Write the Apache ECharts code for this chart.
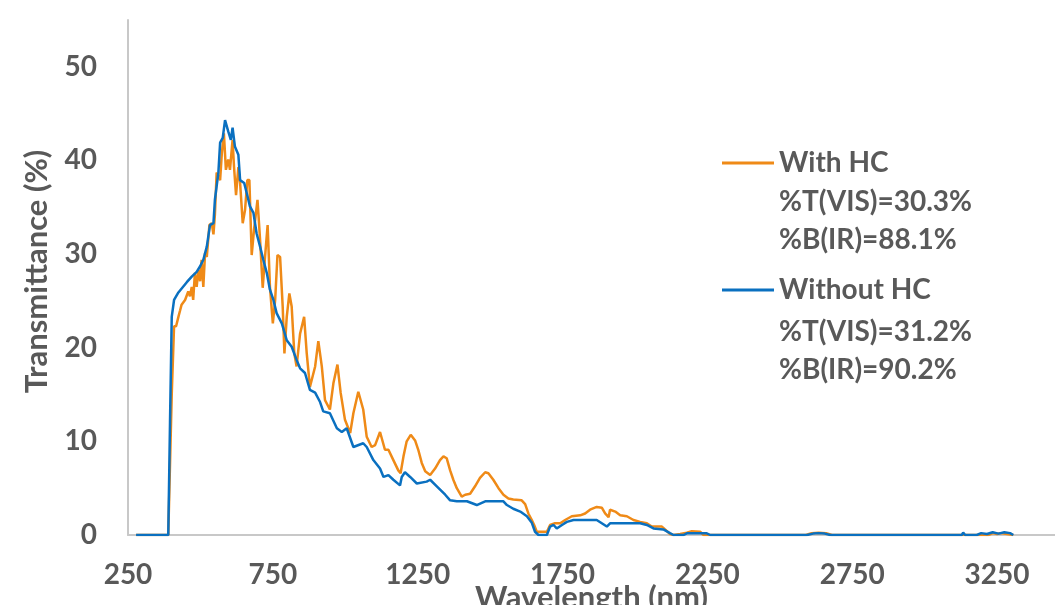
<!DOCTYPE html>
<html>
<head>
<meta charset="utf-8">
<script src="https://cdn.jsdelivr.net/npm/echarts@6/dist/echarts.min.js"></script>
<style>
html,body{margin:0;padding:0;background:#fff;}
#chart{width:1055px;height:605px;}
</style>
</head>
<body>
<div id="chart"></div>
<script>
// ---- Data ----
const withHcWavelength = [278,389,401,409,416,424,430,435,441,447,453,458,464,470,475,481,487,493,499,504,510,516,522,531,539,545,550,556,568,574,581,588,596,602,611,616,623,631,637,646,654,662,669,677,685,697,706,715,723,732,740,750,758,766,775,784,790,798,807,815,824,832,844,858,867,878,896,907,919,930,947,959,973,984,999,1017,1028,1045,1062,1074,1091,1103,1120,1137,1149,1166,1183,1191,1201,1212,1226,1241,1252,1264,1276,1293,1310,1327,1339,1350,1362,1373,1385,1402,1414,1431,1448,1465,1483,1494,1511,1529,1546,1563,1580,1609,1621,1632,1644,1652,1661,1696,1707,1724,1742,1759,1782,1811,1828,1845,1868,1886,1897,1909,1914,1932,1949,1972,1995,2018,2041,2058,2093,2104,2121,2133,2156,2179,2196,2225,2237,2590,2610,2634,2660,2680,3220,3235,3250,3262,3306];
const withHcValues = [0,0,15,22.3,22.3,23.3,24.0,24.6,24.4,25.1,24.9,26.0,25.5,26.5,25.1,28.0,26.5,28.3,27.1,29.4,26.5,30.1,29.7,33.1,33.3,32.1,34.2,38.7,37.9,40.8,42.9,39.0,40.1,39.0,42.2,39.3,36.3,39.3,37.6,33.3,34.7,37.9,37.9,29.9,32.6,35.8,31.5,26.4,29.7,33.1,26.5,22.6,25.1,29.9,29.7,24.4,19.4,23.3,25.8,24.4,19.4,18.0,21.5,23.3,19.4,15.8,18.0,20.7,18.0,14.4,13.4,16.2,18.2,15.2,12.3,10.9,13.0,15.3,13.4,10.5,9.4,9.6,11.0,9.1,9.1,8.0,6.9,6.6,8.4,10.0,10.7,10.1,9.1,7.7,6.8,6.4,7.1,8.0,8.4,8.2,6.9,5.9,5.0,4.1,4.3,4.4,5.2,6.1,6.7,6.6,5.9,5.0,4.3,3.9,3.8,3.7,3.3,2.3,1.6,1.07,0.35,0.35,1.07,1.25,1.25,1.6,2.0,2.1,2.3,2.7,3.0,2.9,2.3,1.9,2.7,2.5,2.1,2.0,1.6,1.4,1.25,0.9,0.9,0.6,0.1,0,0.1,0.25,0.4,0.35,0,0,0.2,0.25,0.2,0,0,0.2,0.1,0.2,0];

const withoutHcWavelength = [278,389,395,401,409,424,430,453,470,487,499,510,522,533,545,550,562,568,577,585,596,605,611,619,631,637,651,660,671,683,694,706,717,729,740,752,763,781,798,815,832,844,861,878,896,913,924,947,971,988,1005,1028,1062,1074,1097,1120,1132,1149,1166,1189,1195,1206,1224,1247,1281,1293,1316,1345,1362,1385,1420,1454,1483,1546,1558,1580,1604,1627,1644,1655,1667,1696,1707,1719,1730,1748,1765,1788,1868,1903,1914,2018,2041,2064,2098,2121,2133,2168,2179,2248,2260,2594,2615,2634,2655,2674,3128,3133,3140,3180,3195,3215,3235,3255,3275,3295,3306];
const withoutHcValues = [0,0,12,23.3,25.1,25.9,26.0,27.0,27.6,28.1,28.7,29.4,30.8,33.1,33.3,35.8,38.7,41.9,42.4,44.3,43.1,42.2,43.5,41.5,40.6,37.9,37.6,36.5,35.1,34.4,32.2,30.8,29.4,28.0,26.2,25.1,23.7,22.6,20.8,20.1,18.7,17.8,17.3,15.5,15.2,14.2,13.2,13.0,11.4,11.0,11.4,9.4,9.8,9.4,8.0,7.1,6.2,6.4,5.9,5.3,6.2,6.7,6.2,5.5,5.7,5.9,5.2,4.3,3.7,3.6,3.6,3.2,3.6,3.6,3.2,2.8,2.5,2.0,1.3,0.35,0,0,0.9,1.07,0.7,1.07,1.4,1.6,1.6,0.9,1.25,1.25,1.07,0.7,0.6,0.2,0,0,0.18,0.18,0,0,0.15,0.2,0.15,0,0,0.25,0,0,0.2,0.1,0.3,0.15,0.3,0.2,0];

const seriesNames = ['With HC', 'Without HC'];
const statsWithHc = ['%T(VIS)=30.3%', '%B(IR)=88.1%'];
const statsWithoutHc = ['%T(VIS)=31.2%', '%B(IR)=90.2%'];

const xMin = 250, xMax = 3450, xStep = 500;
const yMin = 0, yMax = 55, yStep = 10;

// ---- Chart ----
const pair = (xs, ys) => xs.map((x, i) => [x, ys[i]]);
const textColor = '#595959';
const font = 'Lato';
const chart = echarts.init(document.getElementById('chart'), null, {renderer: 'canvas'});
chart.setOption({
  animation: false,
  backgroundColor: '#ffffff',
  grid: {left: 128, right: 0, top: 20, bottom: 70, containLabel: false, outerBoundsMode: 'none'},
  xAxis: {
    type: 'value', min: xMin, max: xMax, interval: xStep,
    name: 'Wavelength (nm)', nameLocation: 'middle', nameGap: 47, nameMoveOverlap: false,
    nameTextStyle: {color: textColor, fontSize: 31, fontWeight: 'bold', fontFamily: font},
    axisLine: {show: true, lineStyle: {color: '#c8c8c8', width: 2}},
    axisTick: {show: false},
    splitLine: {show: false},
    axisLabel: {color: textColor, fontSize: 28, fontWeight: 'bold', fontFamily: font, margin: 26, showMaxLabel: false,
      formatter: v => String(v)}
  },
  yAxis: {
    type: 'value', min: yMin, max: yMax, interval: yStep,
    name: 'Transmittance (%)', nameLocation: 'middle', nameGap: 76, nameMoveOverlap: false,
    nameTextStyle: {color: textColor, fontSize: 31, fontWeight: 'bold', fontFamily: font, padding: [0, 0, 0, 12]},
    axisLine: {show: true, lineStyle: {color: '#c8c8c8', width: 2}},
    axisTick: {show: false},
    splitLine: {show: false},
    axisLabel: {color: textColor, fontSize: 28, fontWeight: 'bold', fontFamily: font, margin: 31, showMaxLabel: false,
      formatter: v => String(v)}
  },
  legend: {
    orient: 'vertical', left: 717, top: 141,
    icon: 'rect', itemWidth: 52, itemHeight: 3, itemGap: 93,
    data: seriesNames,
    textStyle: {color: textColor, fontSize: 28, fontWeight: 'bold', fontFamily: font, lineHeight: 34}
  },
  graphic: [
    {type: 'text', left: 779, top: 183, style: {text: statsWithHc.join('\n'), fill: textColor, font: 'bold 28px Lato', lineHeight: 38}},
    {type: 'text', left: 779, top: 313, style: {text: statsWithoutHc.join('\n'), fill: textColor, font: 'bold 28px Lato', lineHeight: 38}}
  ],
  series: [
    {name: seriesNames[0], type: 'line', data: pair(withHcWavelength, withHcValues), showSymbol: false, symbol: 'none',
     lineStyle: {color: '#ef8a17', width: 2.5}, itemStyle: {color: '#ef8a17'}},
    {name: seriesNames[1], type: 'line', data: pair(withoutHcWavelength, withoutHcValues), showSymbol: false, symbol: 'none',
     lineStyle: {color: '#0a70c0', width: 2.5}, itemStyle: {color: '#0a70c0'}}
  ]
});
</script>
</body>
</html>
